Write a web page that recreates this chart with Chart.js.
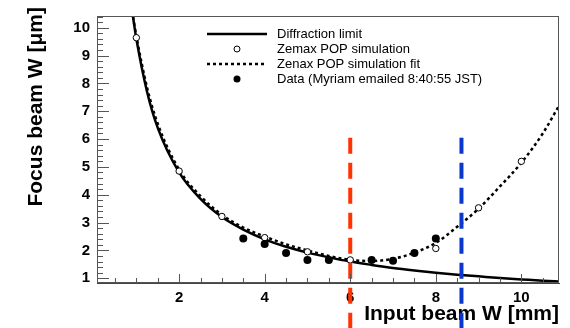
<!DOCTYPE html>
<html>
<head>
<meta charset="utf-8">
<script src="https://cdn.jsdelivr.net/npm/chart.js@4.4.1/dist/chart.umd.min.js"></script>
<style>
  html, body { margin: 0; padding: 0; background: #fff; }
  #wrap { width: 570px; height: 328px; }
</style>
</head>
<body>
<div id="wrap"><canvas id="chart"></canvas></div>
<script>
// values
const diffX = [0.92, 1, 1.25, 1.5, 2, 2.5, 3, 3.5, 4, 4.5, 5, 5.5, 6, 6.5, 7, 7.5, 8, 8.5, 9, 9.5, 10, 10.5, 10.9];
const diffY = [10.4, 9.6, 7.7, 6.4, 4.8, 3.85, 3.2, 2.75, 2.4, 2.13, 1.92, 1.75, 1.6, 1.48, 1.37, 1.28, 1.2, 1.13, 1.07, 1.01, 0.96, 0.91, 0.88];

const fitX = [0.9, 1, 1.25, 1.5, 2, 2.5, 3, 3.5, 4, 4.5, 5, 5.5, 6, 6.5, 7, 7.5, 8, 8.5, 9, 9.5, 10, 10.5, 10.9];
const fitY = [10.6, 9.7, 7.85, 6.55, 4.9, 3.95, 3.28, 2.82, 2.5, 2.22, 2.0, 1.8, 1.66, 1.62, 1.7, 1.92, 2.27, 2.85, 3.5, 4.3, 5.15, 6.2, 7.25];

const simX = [1, 2, 3, 4, 5, 6, 8, 9, 10];
const simY = [9.64, 4.85, 3.22, 2.46, 1.95, 1.66, 2.07, 3.53, 5.2];

const dataX = [3.5, 4, 4.5, 5, 5.5, 6.5, 7, 7.5, 8];
const dataY = [2.43, 2.23, 1.91, 1.66, 1.66, 1.66, 1.63, 1.91, 2.43];

const markX = [6, 8.6];          // red, blue dashed markers
const markY = [6.05, -0.8];      // top and bottom of the marker lines

const xTicks = [2, 4, 6, 8, 10];
const yTicks = [1, 2, 3, 4, 5, 6, 7, 8, 9, 10];

const legendLabels = [
    "Diffraction limit",
    "Zemax POP simulation",
    "Zenax POP simulation fit",
    "Data (Myriam emailed 8:40:55 JST)"
];
const yTitle = "Focus beam W [\u03bcm]";

const FONT = "'Liberation Sans', Arial, Helvetica, sans-serif";

function pts(xs, ys) {
    return xs.map((x, i) => ({x: x, y: ys[i]}));
}

// ROOT style ticks drawn inside the frame, plus the frame itself
const frameTicks = {
    id: "frameTicks",
    afterDraw(chart) {
        const ctx = chart.ctx;
        const a = chart.chartArea;
        const xs = chart.scales.x, ys = chart.scales.y;
        ctx.save();
        ctx.strokeStyle = "#555";
        ctx.lineWidth = 1;
        ctx.strokeRect(a.left + 0.5, a.top + 0.5, a.right - a.left - 1, a.bottom - a.top - 1);
        ctx.beginPath();
        for (let v = 0.5; v <= xs.max; v += 0.5) {
            const px = Math.round(xs.getPixelForValue(v)) + 0.5;
            const len = (v % 2 === 0) ? 9 : 5;
            ctx.moveTo(px, a.bottom);
            ctx.lineTo(px, a.bottom - len);
        }
        for (let k = 5; k <= 52; k++) {
            const v = k / 5;
            if (v < ys.min || v > ys.max) continue;
            const py = Math.round(ys.getPixelForValue(v)) + 0.5;
            const len = (k % 5 === 0) ? 12 : 6;
            ctx.moveTo(a.left, py);
            ctx.lineTo(a.left + len, py);
        }
        ctx.stroke();

        // y title, right aligned near the top of the frame like ROOT does it
        ctx.translate(36, 7);
        ctx.rotate(-Math.PI / 2);
        ctx.fillStyle = "#000";
        ctx.font = "bold 21px " + FONT;
        ctx.textAlign = "right";
        ctx.textBaseline = "middle";
        ctx.fillText(yTitle, 0, 0);
        ctx.restore();
    }
};

// legend block in the upper part of the frame
const legendBox = {
    id: "legendBox",
    afterDraw(chart) {
        const ctx = chart.ctx;
        const x0 = 207, x1 = 267, tx = 277;
        const rows = [34, 49, 64, 79];
        ctx.save();
        ctx.strokeStyle = "#000";
        ctx.fillStyle = "#000";
        ctx.lineWidth = 2.5;
        ctx.beginPath();
        ctx.moveTo(x0, rows[0]); ctx.lineTo(x1, rows[0]);
        ctx.stroke();
        ctx.lineWidth = 1;
        ctx.beginPath();
        ctx.arc((x0 + x1) / 2, rows[1], 3, 0, Math.PI * 2);
        ctx.stroke();
        ctx.lineWidth = 2.5;
        ctx.setLineDash([3, 3]);
        ctx.beginPath();
        ctx.moveTo(x0, rows[2]); ctx.lineTo(x1, rows[2]);
        ctx.stroke();
        ctx.setLineDash([]);
        ctx.beginPath();
        ctx.arc((x0 + x1) / 2, rows[3], 3.5, 0, Math.PI * 2);
        ctx.fill();
        ctx.font = "13px " + FONT;
        ctx.textBaseline = "middle";
        legendLabels.forEach((t, i) => ctx.fillText(t, tx, rows[i]));
        ctx.restore();
    }
};

new Chart(document.getElementById("chart"), {
    type: "scatter",
    data: {
        datasets: [
            {
                data: pts([markX[0], markX[0]], markY),
                showLine: true, borderColor: "#ff3300", borderWidth: 4,
                borderDash: [16, 9], pointRadius: 0, clip: false, order: 0
            },
            {
                data: pts([markX[1], markX[1]], markY),
                showLine: true, borderColor: "#0a37cc", borderWidth: 4,
                borderDash: [16, 9], pointRadius: 0, clip: false, order: 0
            },
            {
                data: pts(dataX, dataY),
                pointRadius: 4, pointBackgroundColor: "#000", pointBorderColor: "#000",
                pointBorderWidth: 0, order: 1
            },
            {
                data: pts(simX, simY),
                pointRadius: 3.2, pointBackgroundColor: "#fff", pointBorderColor: "#000",
                pointBorderWidth: 1, order: 1
            },
            {
                data: pts(fitX, fitY),
                showLine: true, borderColor: "#000", borderWidth: 2.5,
                borderDash: [3, 3], pointRadius: 0, cubicInterpolationMode: "monotone", order: 2
            },
            {
                data: pts(diffX, diffY),
                showLine: true, borderColor: "#000", borderWidth: 2.5,
                pointRadius: 0, cubicInterpolationMode: "monotone", order: 3
            }
        ]
    },
    options: {
        responsive: true,
        maintainAspectRatio: false,
        animation: false,
        layout: { padding: { top: 6, right: 11, left: 0, bottom: 0 } },
        plugins: {
            legend: { display: false },
            tooltip: { enabled: false }
        },
        scales: {
            x: {
                type: "linear",
                min: 0.08, max: 10.88,
                afterBuildTicks: (s) => { s.ticks = xTicks.map(v => ({value: v})); },
                afterFit: (s) => { s.height = 45; },
                grid: { display: false, drawTicks: false },
                border: { display: true, color: "#444", width: 1 },
                ticks: {
                    color: "#000", padding: 6,
                    font: { family: FONT, size: 15, weight: "bold" }
                },
                title: {
                    display: true, text: "Input beam W [mm]", align: "end", color: "#000",
                    font: { family: FONT, size: 21, weight: "bold" },
                    padding: { top: 0, bottom: 1 }
                }
            },
            y: {
                type: "linear",
                min: 0.83, max: 10.42,
                afterBuildTicks: (s) => { s.ticks = yTicks.map(v => ({value: v})); },
                afterFit: (s) => { s.width = 97; },
                grid: { display: false, drawTicks: false },
                border: { display: true, color: "#444", width: 1 },
                ticks: {
                    color: "#000", padding: 7,
                    font: { family: FONT, size: 15, weight: "bold" }
                },
                title: { display: false }
            }
        }
    },
    plugins: [frameTicks, legendBox]
});
</script>
</body>
</html>
